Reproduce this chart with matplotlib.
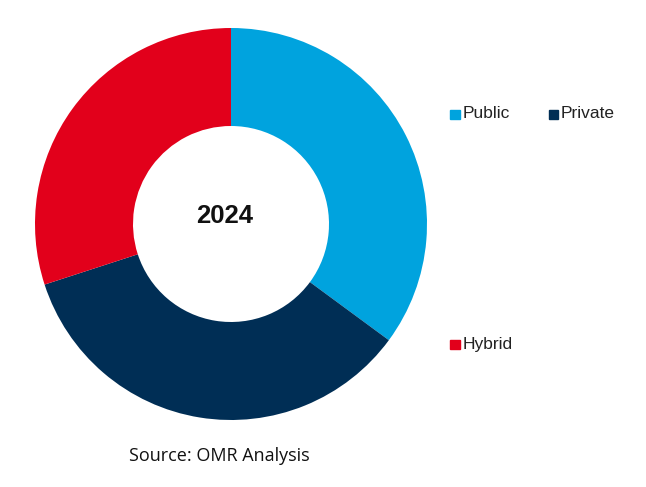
import matplotlib
matplotlib.use("Agg")
import matplotlib.pyplot as plt
from matplotlib.patches import Rectangle

categories = ["Public", "Private", "Hybrid"]
values = [35.1, 34.9, 30.0]
colors = ["#00A3DE", "#002E55", "#E2001B"]
center_label = "2024"
source = "Source: OMR Analysis"

W, H = 646, 487
fig = plt.figure(figsize=(W / 100, H / 100), dpi=100)
cx, cy, r = 231, 224, 196
ax = fig.add_axes([(cx - r) / W, (H - cy - r) / H, 2 * r / W, 2 * r / H])
ax.pie(values, colors=colors, startangle=90, counterclock=False, radius=1,
       wedgeprops=dict(width=0.5, edgecolor="none"))
ax.set_xlim(-1, 1)
ax.set_ylim(-1, 1)
ax.set_aspect("equal")
ax.axis("off")
ax.text(-0.035, 0.04, center_label, ha="center", va="center", fontsize=18.5,
        fontweight="bold", family="Liberation Sans", color="#111111")

legend_pos = [(455, 114), (553, 114), (455, 344)]
for (lx, ly), lab, col in zip(legend_pos, categories, colors):
    s = 9
    fig.patches.append(Rectangle(((lx - s / 2) / W, (H - ly - s / 2) / H), s / W, s / H,
                                 transform=fig.transFigure, color=col))
    fig.text((lx + 8) / W, (H - ly) / H, lab, ha="left", va="center",
             fontsize=12.5, family="Liberation Sans", color="#222222")

fig.text(219 / W, (H - 456) / H, source, ha="center", va="center",
         fontsize=13, family="Open Sans", color="#111111")

fig.savefig("out.png", dpi=100)
